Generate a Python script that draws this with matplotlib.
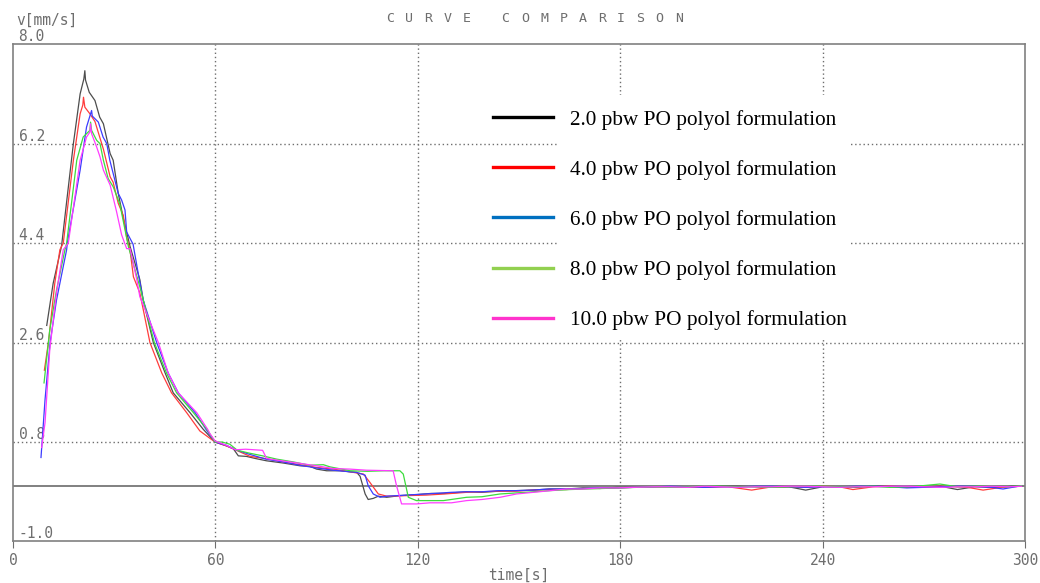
import matplotlib
matplotlib.use("Agg")
import matplotlib.pyplot as plt
from matplotlib.lines import Line2D
from matplotlib.patches import Rectangle

# ---------------------------------------------------------------------------
# Data: time [s] and velocity [mm/s]
# ---------------------------------------------------------------------------
t_2 = [10.0, 11.9, 14.4, 16.0, 17.9, 19.9, 21.0, 21.3, 21.5, 22.6, 24.3, 25.7, 26.8,
       28.8, 29.7, 31.2, 32.7, 34.7, 37.6, 38.6, 41.6, 45.1, 47.5, 52.5, 56.4, 59.9,
       63.3, 65.3, 66.8, 69.2, 72, 75.2, 80.1, 85.1, 88, 90.0, 93.0, 96.9, 101.9, 102.9, 104.4,
       105.3, 106.8, 108.3, 110.8, 114.7, 120, 124, 128, 134.5, 139, 144, 149, 154, 159, 164,
       169, 174, 179, 184, 190, 195, 200, 205, 210, 215, 220, 225, 230, 235, 240, 245, 250,
       255, 260, 265, 270, 275, 280, 285, 290, 293, 296, 299]
v_2 = [2.91, 3.67, 4.35, 5.2, 6.2, 7.1, 7.37, 7.52, 7.35, 7.13, 6.98, 6.68, 6.56,
       6.02, 5.9, 5.3, 4.85, 4.34, 3.74, 3.37, 2.6, 2.05, 1.69, 1.33, 1.03, 0.8,
       0.73, 0.68, 0.55, 0.54, 0.5, 0.46, 0.42, 0.37, 0.36, 0.31, 0.28, 0.28, 0.25, 0.18, -0.14,
       -0.24, -0.22, -0.18, -0.2, -0.17, -0.15, -0.13, -0.13, -0.1, -0.11, -0.09, -0.08, -0.07, -0.05, -0.05,
       -0.03, -0.04, -0.02, -0.02, -0.01, -0.01, -0.02, -0.02, 0.0, 0.0, -0.01, -0.02, -0.01, -0.07, -0.01, -0.01, -0.02,
       0.0, 0.0, -0.01, -0.02, 0.0, -0.06, -0.01, -0.02, -0.02, 0.0, 0.01]

t_4 = [9.3, 10.5, 12.4, 13.9, 14.9, 17.9, 19.9, 20.7, 20.9, 21.3, 22.8, 24.3, 26.8,
       28.8, 29.7, 31.2, 32.7, 33.7, 34.7, 35.7, 37.6, 40.6, 44.1, 47.0, 51.5, 55.4,
       59.9, 63.3, 70.3, 75, 80, 85, 90, 95, 100, 103.9, 105.8, 108.3, 110.8, 116.7, 122.6,
       128, 134.5, 139, 144, 149, 154, 159, 164, 169, 174, 179, 184, 190, 195, 200, 205, 212,
       219, 225, 230, 235, 240, 245, 249, 255, 260, 265, 270, 275, 280, 283, 287.6, 293, 299]
v_4 = [2.1, 2.6, 3.68, 4.28, 4.4, 5.9, 6.74, 6.9, 7.04, 6.86, 6.74, 6.6, 6.1,
       5.6, 5.5, 5.12, 4.9, 4.5, 4.27, 3.79, 3.5, 2.6, 2.05, 1.69, 1.33, 1.0,
       0.8, 0.73, 0.54, 0.5, 0.44, 0.39, 0.34, 0.31, 0.26, 0.22, 0.07, -0.14, -0.18, -0.17, -0.16,
       -0.14, -0.11, -0.1, -0.09, -0.09, -0.07, -0.06, -0.06, -0.04, -0.04, -0.03, -0.02, -0.01, -0.01, -0.02, -0.02, -0.01,
       -0.07, -0.01, -0.01, -0.02, 0.0, -0.01, -0.06, -0.01, 0.0, -0.02, -0.01, 0.0, -0.01, -0.02, -0.07, -0.02, 0.0]

t_6 = [8.3, 9.5, 11.0, 12.9, 15.9, 16.1, 19.9, 21.8, 22.8, 23.3, 23.5, 25.3, 26.7,
       27.8, 28.7, 31.2, 32.2, 33.2, 33.7, 35.6, 37.1, 38.6, 42.6, 46.0, 49.0, 54.0,
       57.2, 59.9, 63.3, 66, 70, 75, 80, 85, 90, 95, 101.9, 104.4, 105.3, 106.8, 108.8,
       110.8, 116.7, 125, 130, 134.5, 139, 144, 149, 154, 159, 164, 169, 174, 179, 184, 190,
       195, 200, 205, 210, 215, 220, 225, 230, 235, 240, 245, 250, 255, 260, 265, 270, 275,
       280, 285, 290, 293.5, 299]
v_6 = [0.52, 1.57, 2.6, 3.37, 4.28, 4.4, 5.72, 6.5, 6.7, 6.8, 6.7, 6.59, 6.32,
       6.2, 5.9, 5.3, 5.18, 5.0, 4.6, 4.38, 3.86, 3.37, 2.6, 2.05, 1.69, 1.33,
       1.03, 0.8, 0.74, 0.66, 0.58, 0.49, 0.44, 0.38, 0.33, 0.29, 0.25, 0.2, 0.01, -0.14, -0.2,
       -0.18, -0.16, -0.13, -0.11, -0.1, -0.1, -0.08, -0.08, -0.07, -0.05, -0.05, -0.04, -0.03, -0.03, -0.02, -0.01,
       0.0, -0.01, -0.02, -0.01, -0.01, 0.0, 0.0, -0.01, -0.02, -0.01, -0.01, 0.0, 0.0, -0.01, -0.03, -0.02, -0.01,
       0.0, 0.0, -0.02, -0.05, 0.01]

t_8 = [9.2, 10.9, 12.9, 15.4, 15.9, 18.9, 20.8, 22.8, 23.0, 23.3, 24.8, 25.8, 26.8,
       28.2, 29.7, 31.7, 34.2, 37.6, 41.9, 45.5, 48.5, 53.5, 57.5, 59.9, 62, 64.3,
       66.5, 70, 74, 78.2, 83.1, 88, 92, 94, 100, 105, 110, 114.7, 115.7, 117.2, 119.6, 127.6,
       134.5, 139, 144.4, 152, 159.2, 165, 170, 175, 180, 185, 190, 195, 200, 205, 210, 215, 220,
       225, 230, 235, 240, 245, 250, 255, 260, 265, 268, 274.8, 280, 285, 290, 295, 299]
v_8 = [1.87, 2.83, 3.55, 4.28, 4.4, 5.9, 6.32, 6.44, 6.59, 6.44, 6.26, 6.2, 5.9,
       5.57, 5.42, 5.1, 4.34, 3.61, 2.6, 2.05, 1.69, 1.33, 1.03, 0.8, 0.8, 0.76,
       0.65, 0.6, 0.55, 0.49, 0.44, 0.38, 0.39, 0.35, 0.28, 0.27, 0.28, 0.28, 0.22, -0.2, -0.26, -0.26,
       -0.2, -0.19, -0.14, -0.11, -0.08, -0.06, -0.05, -0.04, -0.03, -0.02, -0.01, -0.02, -0.01, 0.0, 0.0, -0.01, -0.01,
       -0.02, -0.01, 0.0, 0.0, -0.01, -0.01, 0.0, -0.02, -0.01, 0.0, 0.04, -0.01, 0.0, 0.0, -0.01, 0.01]

t_10 = [8.5, 9.5, 10.9, 12.9, 14.9, 16.4, 19.9, 21.8, 22.8, 23.0, 23.3, 24.8, 25.8,
        26.8, 28.8, 30.7, 32.2, 33.7, 34.7, 36.7, 37.6, 43.1, 46.0, 49.0, 54.5, 57.7,
        58.4, 59.9, 63.3, 66, 69, 74, 75.2, 82.1, 90, 95, 99.9, 104.8, 112.7, 113.7,
        115.2, 119.6, 123.6, 130, 134.5, 139, 144.4, 149.3, 156, 164, 169, 174, 179, 184, 190,
        195, 200, 205, 210, 215, 220, 225, 230, 235, 240, 245, 250, 255, 260, 265, 270, 275,
        280, 285, 290, 295, 299]
v_10 = [0.7, 1.15, 2.47, 3.5, 4.28, 4.4, 5.9, 6.32, 6.41, 6.56, 6.38, 6.14, 5.96,
        5.72, 5.45, 4.97, 4.55, 4.3, 4.3, 3.74, 3.43, 2.6, 2.05, 1.69, 1.33, 1.03,
        0.95, 0.82, 0.74, 0.66, 0.67, 0.65, 0.5, 0.44, 0.37, 0.32, 0.31, 0.29, 0.28, 0.01,
        -0.32, -0.32, -0.3, -0.3, -0.26, -0.24, -0.2, -0.14, -0.1, -0.05, -0.05, -0.03, -0.03, -0.02, -0.01,
        -0.01, -0.02, 0.0, -0.01, -0.02, -0.01, -0.01, 0.0, 0.0, -0.01, -0.02, -0.01, -0.01, 0.0, 0.0, -0.01, -0.02,
        -0.01, -0.01, 0.0, -0.01, 0.0]

labels = ["2.0 pbw PO polyol formulation", "4.0 pbw PO polyol formulation",
          "6.0 pbw PO polyol formulation", "8.0 pbw PO polyol formulation",
          "10.0 pbw PO polyol formulation"]
line_colors = ["#4d4d4d", "#ff3c3c", "#3c3cff", "#3cdc3c", "#ff3cff"]
legend_colors = ["#000000", "#ff0000", "#0070c0", "#92d050", "#ff33cc"]

x_ticks = [0, 60, 120, 180, 240, 300]
y_ticks = [-1.0, 0.8, 2.6, 4.4, 6.2, 8.0]

TITLE = "C U R V E   C O M P A R I S O N"

# ---------------------------------------------------------------------------
# Figure
# ---------------------------------------------------------------------------
GRAY = "#6e6e6e"
MONO = "DejaVu Sans Mono"

fig = plt.figure(figsize=(10.4, 5.83), dpi=100)
ax = fig.add_axes([0.0125, 0.0712, 0.973, 0.853])

# grid (dotted) + zero line
for yv in y_ticks[1:-1]:
    ax.axhline(yv, color=GRAY, linestyle=(0, (1, 2)), linewidth=1.0, zorder=1)
for xv in x_ticks[1:-1]:
    ax.axvline(xv, color=GRAY, linestyle=(0, (1, 2)), linewidth=1.0, zorder=1)
ax.axhline(0, color="#808080", linewidth=1.4, zorder=1)

# white box behind the legend text
ax.add_patch(Rectangle((0.538, 0.41), 0.29, 0.487, transform=ax.transAxes,
                       facecolor="white", edgecolor="none", zorder=2))

series = [(t_2, v_2), (t_4, v_4), (t_6, v_6), (t_8, v_8), (t_10, v_10)]
for (t, v), c in zip(series, line_colors):
    ax.plot(t, v, color=c, linewidth=0.9, zorder=3)

ax.set_xlim(0, 300)
ax.set_ylim(-1.0, 8.0)

ax.set_xticks(x_ticks)
ax.set_xticklabels([str(x) for x in x_ticks], fontfamily=MONO, fontsize=10.5, color=GRAY)
ax.set_yticks(y_ticks)
ax.set_yticklabels([f"{y:.1f}" for y in y_ticks], fontfamily=MONO, fontsize=10.5, color=GRAY)
ax.tick_params(axis="x", direction="out", length=5, color=GRAY, pad=3)
ax.tick_params(axis="y", length=0, pad=-4)
for lab in ax.get_yticklabels():
    lab.set_horizontalalignment("left")
    lab.set_verticalalignment("bottom")

for sp in ax.spines.values():
    sp.set_color("#808080")
    sp.set_linewidth(1.2)

ax.set_xlabel("time[s]", fontfamily=MONO, fontsize=10.5, color=GRAY, labelpad=0)
fig.text(0.016, 0.965, "v[mm/s]", fontfamily=MONO, fontsize=10.5, color=GRAY,
         ha="left", va="center")

# spaced-out title, one glyph at a time (first glyph centre ~390px, last ~679px)
step = (679 - 390) / (len(TITLE) - 1) / 1040
for i, ch in enumerate(TITLE):
    if ch != " ":
        fig.text(390 / 1040 + i * step, 0.969, ch, fontfamily=MONO, fontsize=9.5,
                 color=GRAY, ha="center", va="center")

handles = [Line2D([], [], color=c, linewidth=2.4) for c in legend_colors]
leg = ax.legend(handles, labels, loc="upper left", bbox_to_anchor=(0.474, 0.868),
                frameon=False, borderpad=0, borderaxespad=0,
                handlelength=2.85, handletextpad=0.78, labelspacing=1.42,
                prop={"family": "Liberation Serif", "size": 15.3})
leg.set_zorder(5)

fig.savefig("out.png", dpi=100)
